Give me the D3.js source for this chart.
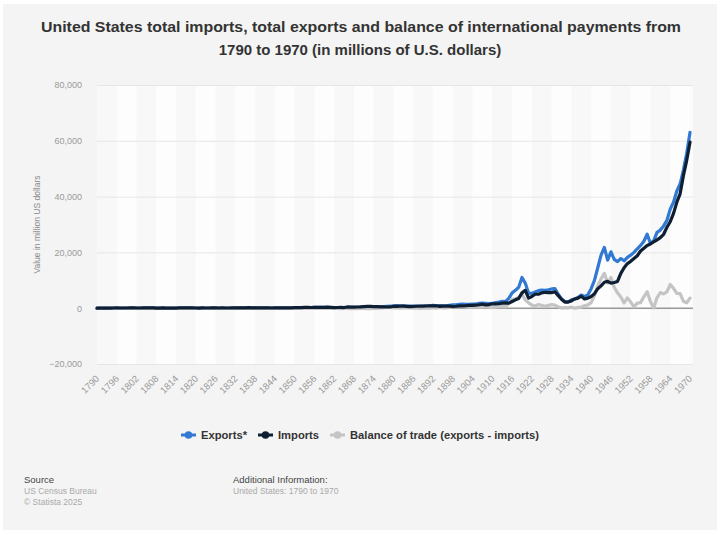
<!DOCTYPE html>
<html>
<head>
<meta charset="utf-8">
<script src="https://cdn.jsdelivr.net/npm/d3@7"></script>
<style>
  body { margin: 0; background: #fff; }
  text { font-family: "Liberation Sans", Arial, sans-serif; }
</style>
</head>
<body>
<script>
// yearly values, millions of US dollars, 1790 .. 1970
const years = d3.range(1790, 1971)
const exportsData = [
  20,19,21,26,33,48,59,51,61,79,
  71,94,72,56,78,96,102,108,22,52,
  67,61,39,28,7,53,82,88,93,70,
  70,55,61,68,68,91,73,74,64,67,
  72,73,81,87,102,115,124,111,104,112,
  124,111,100,82,106,106,110,156,138,140,
  144,188,167,203,237,218,281,293,272,293,
  334,219,190,203,158,166,348,294,281,286,
  393,442,444,522,586,513,540,602,694,710,
  835,902,750,823,740,742,680,716,695,742,
  857,884,1030,848,892,808,883,1051,1231,1227,
  1371,1460,1355,1392,1435,1491,1718,1854,1752,1638,
  1710,2013,2170,2484,2400,3500,5500,6400,7500,11000,
  9000,5400,5300,5800,6300,6500,6400,6600,6900,7000,
  5000,3300,2400,2300,3000,3300,3800,4700,4200,4800,
  7000,10000,14500,19000,21800,17200,20200,17500,16700,17800,
  17000,18200,19000,20000,21300,22500,24000,26500,23200,24200,
  27200,28000,29500,31500,35500,38000,42000,44500,49500,55500,
  63000
]
const importsData = [
  23,29,31,31,35,69,81,75,68,79,
  91,111,76,65,85,121,129,139,57,59,
  85,53,77,22,13,113,147,99,122,87,
  74,62,83,77,80,96,85,79,89,74,
  71,103,101,109,126,150,190,141,114,162,
  107,127,100,64,108,117,122,122,148,141,
  178,216,212,263,297,257,310,348,263,331,
  354,286,192,244,317,239,446,417,372,437,
  462,541,640,642,595,553,461,451,437,446,
  696,670,724,723,668,578,635,692,724,745,
  789,844,827,866,654,732,779,765,616,697,
  850,823,903,1025,991,1118,1227,1434,1194,1312,
  1557,1527,1653,1813,1900,1800,2400,3000,3500,5500,
  6400,3600,4200,5000,5000,5500,5700,5600,5600,5900,
  4500,3200,2200,2200,2600,3300,3600,4300,3300,3600,
  4200,5200,7000,8000,9300,9600,9000,9200,9600,12500,
  14500,16000,16800,17800,18800,20500,21500,22500,23000,23800,
  24500,25300,26500,29000,31000,34000,38000,41000,47500,53000,
  59500
]
const balanceData = [
  -3,-10,-10,-5,-2,-21,-22,-24,-7,0,
  -20,-17,-4,-9,-7,-25,-27,-31,-35,-7,
  -18,8,-38,6,-6,-60,-65,-11,-29,-17,
  -4,-7,-22,-9,-12,-5,-12,-5,-25,-7,
  1,-30,-20,-22,-24,-35,-66,-30,-10,-50,
  17,-16,0,18,-2,-11,-12,34,-10,-1,
  -34,-28,-45,-60,-60,-39,-29,-55,9,-38,
  -20,-67,-2,-41,-159,-73,-98,-123,-91,-151,
  -69,-99,-196,-120,-9,-40,79,151,257,264,
  139,232,26,100,72,164,45,24,-29,-3,
  68,40,203,-18,238,76,104,286,615,530,
  521,637,452,367,444,373,491,420,558,326,
  153,486,517,671,500,1700,3100,3400,3800,5000,
  3000,1900,1100,800,1300,1000,700,1000,1300,1100,
  500,100,200,100,400,0,200,400,900,1200,
  2000,4500,8000,10500,12500,9000,11000,7500,5500,4000,
  1900,3700,2200,500,1800,2000,4100,5900,2300,100,
  3800,5600,5100,5900,8500,7100,5300,5200,2500,1900,
  3600
]
const seriesNames = ["Exports*", "Imports", "Balance of trade (exports - imports)"]
const seriesColors = ["#3179d2", "#0f1f33", "#c4c4c4"]
const yTicks = [-20000, 0, 20000, 40000, 60000, 80000]
const xTicks = d3.range(1790, 1971, 6)

let w = 720, h = 535
let svg = d3.select("body").append("svg").attr("width", w).attr("height", h)

// card background
svg.append("rect").attr("x", 3).attr("y", 4).attr("width", 714).attr("height", 526).attr("fill", "#f4f4f4")

// title
svg.append("text").attr("x", 361).attr("y", 32).attr("text-anchor", "middle")
  .attr("font-size", 15).attr("font-weight", "bold").attr("fill", "#333")
  .attr("textLength", 640).attr("lengthAdjust", "spacingAndGlyphs")
  .text("United States total imports, total exports and balance of international payments from")
svg.append("text").attr("x", 360).attr("y", 55).attr("text-anchor", "middle")
  .attr("font-size", 15).attr("font-weight", "bold").attr("fill", "#333")
  .text("1790 to 1970 (in millions of U.S. dollars)")

let left = 97, right = 693
let x = d3.scaleLinear().domain([1790, 1970]).range([97, 690])
let y = d3.scaleLinear().domain([-20000, 80000]).range([364, 85])

// alternating column bands
svg.append("rect").attr("x", left).attr("y", y(80000)).attr("width", right - left)
  .attr("height", y(-20000) - y(80000)).attr("fill", "#fbfbfb")
svg.selectAll(".band").data(xTicks.slice(0, -1)).enter().append("rect")
  .attr("class", "band")
  .attr("x", d => x(d)).attr("width", d => x(d + 6) - x(d))
  .attr("y", y(80000)).attr("height", y(-20000) - y(80000))
  .attr("fill", (d, i) => i % 2 ? "#fdfdfd" : "#f8f8f8")

// y axis + grid
let yAxis = d3.axisLeft(y).tickValues(yTicks).tickSize(-(right - left)).tickPadding(15)
  .tickFormat(d3.format(","))
let gy = svg.append("g").attr("transform", "translate(" + left + ",0)").call(yAxis)
gy.select(".domain").remove()
gy.selectAll("line").attr("stroke", "#e6e6e6")
gy.selectAll("text").attr("fill", "#999").attr("font-size", 9)
  .style("font-family", "'Liberation Sans', Arial, sans-serif")

// zero line
svg.append("line").attr("x1", left).attr("x2", right).attr("y1", y(0)).attr("y2", y(0))
  .attr("stroke", "#999").attr("stroke-width", 1.5)

svg.append("text").attr("transform", "translate(40," + ((y(80000) + y(-20000)) / 2) + ") rotate(-90)")
  .attr("text-anchor", "middle").attr("font-size", 8.5).attr("fill", "#8a8a8a")
  .text("Value in million US dollars")

// x axis labels
let xAxis = d3.axisBottom(x).tickValues(xTicks).tickSize(0).tickFormat(d3.format("d"))
let gx = svg.append("g").attr("transform", "translate(0," + y(-20000) + ")").call(xAxis)
gx.select(".domain").remove()
gx.selectAll("text")
  .attr("x", 0).attr("y", 0).attr("dy", "0.35em")
  .attr("text-anchor", "end")
  .attr("transform", "translate(0,13) rotate(-45)")
  .attr("fill", "#999").attr("font-size", 9.5)
  .style("font-family", "'Liberation Sans', Arial, sans-serif")

// lines
let line = d3.line().x((d, i) => x(years[i])).y(d => y(d))
let order = [0, 2, 1]
let allSeries = [exportsData, importsData, balanceData]
order.forEach(k => {
  svg.append("path").datum(allSeries[k])
    .attr("d", line).attr("fill", "none")
    .attr("stroke", seriesColors[k]).attr("stroke-width", 3.2)
    .attr("stroke-linejoin", "round").attr("stroke-linecap", "round")
})

// legend
let lg = svg.append("g")
let lx = 0
seriesNames.forEach((name, i) => {
  let g = lg.append("g").attr("transform", "translate(" + lx + ",0)")
  g.append("line").attr("x1", 0).attr("x2", 15).attr("y1", 0).attr("y2", 0)
    .attr("stroke", seriesColors[i]).attr("stroke-width", 3)
  g.append("circle").attr("cx", 7.5).attr("cy", 0).attr("r", 3.8).attr("fill", seriesColors[i])
  let t = g.append("text").attr("x", 20).attr("y", 0).attr("dy", "0.35em")
    .attr("font-size", 11.2).attr("font-weight", "bold").attr("fill", "#333").text(name)
  lx += 20 + t.node().getComputedTextLength() + 11
})
lx -= 11
lg.attr("transform", "translate(" + (360 - lx / 2) + ",435)")

// footer
svg.append("text").attr("x", 24).attr("y", 483).attr("font-size", 9.5).attr("fill", "#444").text("Source")
svg.append("text").attr("x", 24).attr("y", 494).attr("font-size", 8.5).attr("fill", "#aaa").text("US Census Bureau")
svg.append("text").attr("x", 24).attr("y", 505).attr("font-size", 8.5).attr("fill", "#aaa").text("© Statista 2025")
svg.append("text").attr("x", 233).attr("y", 483).attr("font-size", 9.5).attr("fill", "#444").text("Additional Information:")
svg.append("text").attr("x", 233).attr("y", 494).attr("font-size", 8.5).attr("fill", "#aaa").text("United States: 1790 to 1970")
</script>
</body>
</html>
